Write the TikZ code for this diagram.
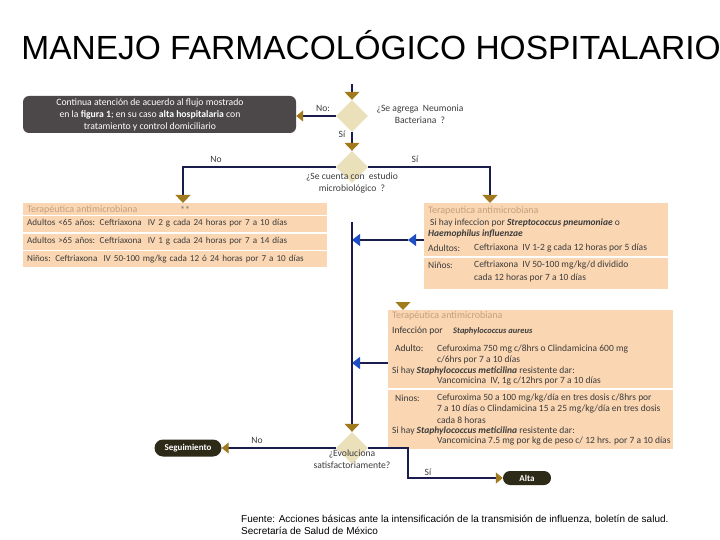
\documentclass[tikz,border=0pt]{standalone}
\usepackage{fontspec}
\setmainfont{Carlito}
\newfontfamily\arialfont{Liberation Sans}
\usepackage{xcolor}
\usepackage{tikz}
\usetikzlibrary{shapes, arrows.meta, positioning, calc}
\definecolor{linecolor}{RGB}{27, 28, 78}
\definecolor{goldcolor}{RGB}{160, 122, 28}
\definecolor{tancolor}{RGB}{234, 224, 186}
\definecolor{peachcolor}{RGB}{250, 214, 178}
\definecolor{darkboxcolor}{RGB}{76, 72, 74}
\definecolor{pillcolor}{RGB}{45, 42, 24}
\definecolor{bluecolor}{RGB}{31, 78, 196}
\definecolor{headcolor}{RGB}{196, 160, 130}
\definecolor{textcolor}{RGB}{60, 60, 60}

\begin{document}
\begin{tikzpicture}[x=1pt, y=-1pt,
    flowline/.style={draw=linecolor, line width=1.1pt},
    goldarrow/.style={flowline, -{Triangle[width=15pt, length=8pt, color=goldcolor]}},
    goldside/.style={flowline, -{Triangle[width=11pt, length=7pt, color=goldcolor]}},
    bluearrow/.style={flowline, -{Triangle[width=12pt, length=8pt, color=bluecolor]}},
    decision/.style={diamond, fill=tancolor, minimum width=32pt, minimum height=32pt, inner sep=0pt},
    peachbox/.style={fill=peachcolor, inner sep=0pt, anchor=north west},
    rowbox/.style={fill=peachcolor, text width=296pt, inner xsep=4pt, inner ysep=0pt, minimum height=16pt, align=left, text=textcolor, font=\fontsize{9.1}{10}\selectfont},
    boxtext/.style={anchor=west, inner sep=0pt, text=textcolor, font=\fontsize{9.5}{10}\selectfont},
    boxhead/.style={boxtext, text=headcolor, font=\fontsize{10}{11}\selectfont},
    flowlabel/.style={inner sep=0pt, text=textcolor, font=\fontsize{9.6}{12}\selectfont, align=center},
    pill/.style={fill=pillcolor, text=white, font=\bfseries\fontsize{9}{10}\selectfont, inner sep=0pt},
  ]
  % Page
  \fill[white] (0,0) rectangle (720,540);
  \useasboundingbox (0,0) rectangle (720,540);

  % Title
  \node[font=\arialfont\fontsize{33.5}{36}\selectfont, inner sep=0pt] (title) at (371,45) {MANEJO FARMACOLÓGICO HOSPITALARIO};

  % Decisions
  \coordinate (start) at (352,84);
  \node[decision] (dia1) at (352,116) {};
  \node[decision] (dia2) at (352,167) {};
  \node[decision] (dia3) at (352,448) {};
  \node[flowlabel] (q1) at (420,114) {¿Se agrega\ \ Neumonia\\Bacteriana\ \ ?};
  \node[flowlabel] (q2) at (352,183) {¿Se cuenta con\ \ estudio\\microbiológico\ \ ?};
  \node[flowlabel] (q3) at (352,459) {¿Evoluciona\\satisfactoriamente?};

  % Dark box
  \node[fill=darkboxcolor, rounded corners=6pt, minimum width=273pt, minimum height=37pt, inner sep=0pt] (dbox) at (159.5,114.5) {};
  \node[text=white, font=\fontsize{9.7}{12}\selectfont, align=center, inner sep=0pt] (dboxtxt) at (150,115)
    {Continua atención de acuerdo al flujo mostrado\\en la \textbf{figura 1}; en su caso \textbf{alta hospitalaria} con\\tratamiento y control domiciliario};

  % Left therapy box
  \node[peachbox, minimum width=304pt, minimum height=12pt] (lhead) at (23,203) {};
  \node[boxhead] (lheadtxt) at (27,210) {Terapéutica antimicrobiana};
  \node[boxhead, text=textcolor!70] (lstars) at (180,210) {**};
  \node[rowbox, below=0pt of lhead] (lrow1) {Adultos <65 años: Ceftriaxona\ \ IV 2 g cada 24 horas por 7 a 10 días};
  \node[rowbox, below=1.5pt of lrow1] (lrow2) {Adultos >65 años: Ceftriaxona\ \ IV 1 g cada 24 horas por 7 a 14 días};
  \node[rowbox, below=1.5pt of lrow2] (lrow3) {Niños: Ceftriaxona\ \ IV 50-100 mg/kg cada 12 ó 24 horas por 7 a 10 días};

  % Right therapy box
  \node[peachbox, minimum width=244pt, minimum height=53pt] (rbox1) at (424,203) {};
  \node[peachbox, minimum width=244pt, minimum height=31pt] (rbox1b) at (424,258) {};
  \node[boxhead] (rheadtxt) at (428,211) {Terapeutica antimicrobiana};
  \node[boxtext] (rtxt1) at (430,223) {Si hay infeccion por \textbf{\textit{Streptococcus pneumoniae}} o};
  \node[boxtext] (rtxt2) at (428,234) {\textbf{\textit{Haemophilus influenzae}}};
  \node[boxtext] (rtxt3) at (428,248) {Adultos:};
  \node[boxtext] (rtxt4) at (474,248) {Ceftriaxona\ \ IV 1-2 g cada 12 horas por 5 días};
  \node[boxtext] (rtxt5) at (428,265) {Niños:};
  \node[boxtext] (rtxt6) at (474,265) {Ceftriaxona\ \ IV 50-100 mg/kg/d dividido};
  \node[boxtext] (rtxt7) at (474,278) {cada 12 horas por 7 a 10 días};

  % Staphylococcus box
  \node[peachbox, minimum width=285pt, minimum height=78pt] (sbox) at (388,310) {};
  \node[peachbox, minimum width=285pt, minimum height=59pt] (sboxb) at (388,390) {};
  \node[boxhead] (sheadtxt) at (392,316) {Terapéutica antimicrobiana};
  \node[boxtext, text=black!80] (stxt1) at (392,331) {Infección por};
  \node[boxtext, font=\bfseries\itshape\fontsize{8.5}{9}\selectfont] (stxt2) at (453,331) {Staphylococcus aureus};
  \node[boxtext, text=black!80] (stxt3) at (395,348) {Adulto:};
  \node[boxtext] (stxt4) at (437,349) {Cefuroxima 750 mg c/8hrs o Clindamicina 600 mg};
  \node[boxtext] (stxt5) at (437,360) {c/6hrs por 7 a 10 días};
  \node[boxtext] (stxt6) at (392,371) {Si hay \textbf{\textit{Staphylococcus meticilina}} resistente dar:};
  \node[boxtext] (stxt7) at (437,381) {Vancomicina\ \ IV, 1g c/12hrs por 7 a 10 días};
  \node[boxtext] (stxt8) at (395,398) {Ninos:};
  \node[boxtext] (stxt9) at (437,398) {Cefuroxima 50 a 100 mg/kg/día en tres dosis c/8hrs por};
  \node[boxtext] (stxt10) at (437,409) {7 a 10 días o Clindamicina 15 a 25 mg/kg/día en tres dosis};
  \node[boxtext] (stxt11) at (437,420) {cada 8 horas};
  \node[boxtext] (stxt12) at (392,431) {Si hay \textbf{\textit{Staphylococcus meticilina}} resistente dar:};
  \node[boxtext] (stxt13) at (437,441) {Vancomicina 7.5 mg por kg de peso c/ 12 hrs. por 7 a 10 días};

  % End points
  \node[pill, minimum width=67pt, minimum height=17pt, rounded corners=8.5pt] (seg) at (188,448) {Seguimiento};
  \node[pill, minimum width=48pt, minimum height=14pt, rounded corners=7pt] (alta) at (527,478) {Alta};

  % Connector points
  \coordinate (lin) at (183,203);
  \coordinate (rin) at (490,203);
  \coordinate (sin) at (403,302);
  \coordinate (vtop) at (352,222);
  \coordinate (vb1) at (352,240);
  \coordinate (vb2) at (352,363);
  \coordinate (bmid) at (408,240);
  \coordinate (acorner) at (408,448);

  % Connectors
  \draw[goldarrow] (start) -- (dia1.north);
  \draw[goldarrow] (dia1.south) -- (dia2.north);
  \draw[goldside] (dia1.west) -- (dia1.west -| dbox.east);
  \draw[goldarrow] (dia2.west) -| (lin);
  \draw[goldarrow] (dia2.east) -| (rin);
  \draw[goldarrow] (sin) -- (sin |- sbox.north);
  \draw[bluearrow] (rbox1.west |- vb1) -- (bmid);
  \draw[bluearrow] (bmid) -- (vb1);
  \draw[bluearrow] (sbox.west |- vb2) -- (vb2);
  \draw[goldarrow] (vtop) -- (dia3.north);
  \draw[goldside] (dia3.west) -- (seg.east);
  \draw[goldside] (dia3.east) -- (acorner) |- (alta.west);

  % Branch labels
  \node[flowlabel] (l1) at (323,108) {No:};
  \node[flowlabel] (l2) at (342,134) {Sí};
  \node[flowlabel] (l3) at (216,159) {No};
  \node[flowlabel] (l4) at (415,159) {Sí};
  \node[flowlabel] (l5) at (257,440) {No};
  \node[flowlabel] (l6) at (428,472) {Sí};

  % Source
  \node[anchor=west, inner sep=0pt, font=\arialfont\fontsize{10}{12}\selectfont, align=left] (fuente) at (241,525)
    {Fuente: Acciones básicas ante la intensificación de la transmisión de influenza, boletín de salud.\\Secretaría de Salud de México};
\end{tikzpicture}
\end{document}
